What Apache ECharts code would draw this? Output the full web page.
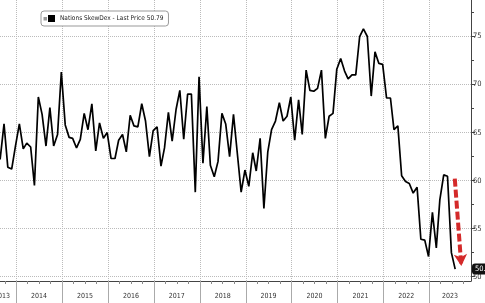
<!DOCTYPE html>
<html><head><meta charset="utf-8">
<script src="https://cdn.jsdelivr.net/npm/echarts@6/dist/echarts.min.js"></script>
<style>html,body{margin:0;padding:0;background:#fff}#c{width:485px;height:303px}</style>
</head><body><div id="c"></div><script>
const seriesName = 'Nations SkewDex - Last Price 50.79';
const startYear = 2013, startMonth = 8; // first monthly value: Aug 2013
const values2013 = [62.2, 65.9, 61.4, 61.2, 63.6];
const values2014 = [65.9, 63.3, 63.9, 63.5, 59.5, 68.7, 66.9, 63.6, 67.6, 63.6, 64.8, 71.3];
const values2015 = [65.8, 64.5, 64.4, 63.4, 64.3, 67.0, 65.3, 68.0, 63.1, 66.0, 64.4, 65.0];
const values2016 = [62.3, 62.3, 64.2, 64.8, 63.0, 66.8, 65.7, 65.6, 68.0, 66.2, 62.5, 65.2];
const values2017 = [65.6, 61.5, 63.4, 67.1, 64.1, 67.4, 69.4, 64.3, 69.0, 69.0, 58.8, 70.8];
const values2018 = [61.8, 67.7, 61.6, 60.4, 62.0, 67.0, 65.9, 62.5, 66.9, 62.9, 58.8, 61.1];
const values2019 = [59.4, 62.9, 61.0, 64.4, 57.1, 63.0, 65.3, 66.2, 68.1, 66.2, 66.7, 68.7];
const values2020 = [64.2, 68.4, 64.8, 71.5, 69.4, 69.3, 69.6, 71.5, 64.4, 66.7, 67.0, 71.6];
const values2021 = [72.7, 71.4, 70.6, 71.0, 71.0, 75.0, 75.8, 75.0, 68.8, 73.4, 72.2, 72.1];
const values2022 = [68.6, 68.6, 65.3, 65.7, 60.5, 59.9, 59.7, 58.7, 59.3, 53.9, 53.8, 52.1];
const values2023 = [56.7, 53.0, 58.0, 60.6, 60.45, 52.5, 50.79];
const lastPrice = 50.79;
const yLabelValues = [50, 55, 60, 65, 70, 75];
const yMinorTickValues = [52.5, 57.5, 62.5, 67.5, 72.5, 77.5];
const yearLabelDates = ['2013-09-09','2014-07-01','2015-07-01','2016-07-01','2017-07-01','2018-07-01','2019-07-01','2020-07-01','2021-07-01','2022-07-01','2023-06-14'];
const yearStartDates = ['2014-01-01','2015-01-01','2016-01-01','2017-01-01','2018-01-01','2019-01-01','2020-01-01','2021-01-01','2022-01-01','2023-01-01'];
const axisStart = '2013-08-24', axisEnd = '2023-11-28';
const arrowFrom = ['2023-07-22', 60.2];
const arrowTo = ['2023-09-12', 51.1];

const FONT = "'Liberation Sans Narrow', 'DejaVu Sans Condensed', 'Liberation Sans', sans-serif";
function ts(s) { const p = s.split('-').map(Number); return new Date(p[0], p[1] - 1, p[2]).getTime(); }
const allValues = [].concat(values2013, values2014, values2015, values2016, values2017, values2018,
  values2019, values2020, values2021, values2022, values2023);
const seriesData = allValues.map((v, i) => {
  const mIdx = startMonth - 1 + i;
  const y = startYear + Math.floor(mIdx / 12), m = mIdx % 12;
  return [new Date(y, m, 25).getTime(), v];
});
const xMin = ts(axisStart), xMax = ts(axisEnd);
const quarterTicks = [];
for (let y = 2013; y <= 2023; y++) for (const m of [3, 6, 9]) {
  const t = new Date(y, m, 1).getTime(); if (t > xMin && t < xMax) quarterTicks.push(t);
}

const chart = echarts.init(document.getElementById('c'), null, {renderer: 'canvas'});
chart.setOption({
  animation: false,
  backgroundColor: '#fff',
  textStyle: {fontFamily: FONT},
  grid: {left: 0, right: 14, top: 0, bottom: 22, containLabel: false, outerBoundsMode: 'none'},
  legend: {
    data: [seriesName], left: 41, top: 11, icon: 'rect', itemWidth: 7, itemHeight: 7,
    backgroundColor: '#fff', borderColor: '#999', borderWidth: 1, borderRadius: 3,
    padding: [4, 5, 4, 7], textStyle: {fontSize: 6.5, color: '#222', fontFamily: FONT}
  },
  graphic: [{type: 'rect', left: 43.5, top: 17, z: 100, shape: {width: 3.5, height: 3.5}, style: {fill: '#999'}}],
  xAxis: [{
    type: 'value', min: xMin, max: xMax, position: 'bottom', scale: true,
    axisLine: {show: true, lineStyle: {color: '#444', width: 1}},
    axisTick: {show: true, customValues: yearStartDates.map(ts), length: 22, lineStyle: {color: '#aaa'}},
    axisLabel: {customValues: yearLabelDates.map(ts), formatter: v => String(new Date(v).getFullYear()),
      margin: 12, fontSize: 7, color: '#333', fontFamily: FONT},
    splitLine: {show: true, lineStyle: {type: 'dotted', color: '#bbb', width: 1}}
  }, {
    type: 'value', min: xMin, max: xMax, position: 'bottom', scale: true,
    axisLine: {show: false},
    axisTick: {show: true, customValues: quarterTicks, length: 3, lineStyle: {color: '#888'}},
    axisLabel: {show: false}, splitLine: {show: false}
  }],
  yAxis: [{
    type: 'value', min: 49.55, max: 78.8, position: 'right',
    axisLine: {show: true, lineStyle: {color: '#444', width: 1}},
    axisTick: {show: true, customValues: yLabelValues, length: 4, lineStyle: {color: '#444'}},
    axisLabel: {customValues: yLabelValues, margin: 2, fontSize: 7.5, color: '#333', fontFamily: FONT},
    splitLine: {show: true, lineStyle: {type: 'dotted', color: '#bbb', width: 1}}
  }, {
    type: 'value', min: 49.55, max: 78.8, position: 'right',
    axisLine: {show: false},
    axisTick: {show: true, customValues: yMinorTickValues, length: 3, lineStyle: {color: '#444'}},
    axisLabel: {show: false}, splitLine: {show: false}
  }],
  series: [{
    name: seriesName, type: 'line', xAxisIndex: 0, yAxisIndex: 0,
    data: seriesData, showSymbol: false, symbol: 'none',
    lineStyle: {color: '#000', width: 1.7}, itemStyle: {color: '#000'},
    markLine: {
      silent: true, animation: false, symbol: ['none', 'none'],
      data: [
        [{coord: [ts(arrowFrom[0]), arrowFrom[1]], symbol: 'none',
          lineStyle: {color: '#d42a2a', width: 4, type: [8, 3]}, label: {show: false}},
         {coord: [ts(arrowTo[0]), arrowTo[1]], symbol: 'arrow', symbolSize: [10, 12]}],
        {yAxis: lastPrice, symbol: 'none', lineStyle: {width: 0, color: 'rgba(0,0,0,0)'},
          label: {show: true, position: 'end', distance: 1, formatter: '50.79', backgroundColor: '#111',
            color: '#fff', padding: [2, 3, 1, 3], borderRadius: 3, fontSize: 7.5, fontFamily: FONT}}
      ]
    }
  }]
});
</script></body></html>
